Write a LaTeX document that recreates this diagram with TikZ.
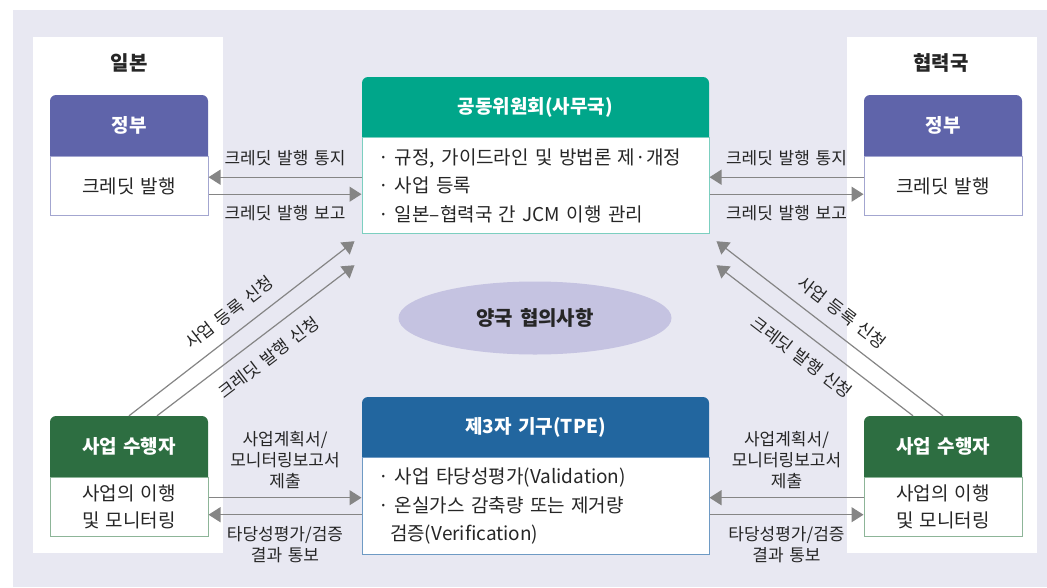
\documentclass[tikz,border=0pt]{standalone}
\usepackage{fontspec}
\setmainfont{Noto Sans CJK KR}[WordSpace=1.5]
\usetikzlibrary{arrows.meta,positioning,shapes.geometric}

\definecolor{lavbg}{HTML}{E8E8F2}
\definecolor{govhead}{HTML}{5F64AA}
\definecolor{govline}{HTML}{A3A6D0}
\definecolor{jcmhead}{HTML}{00A68A}
\definecolor{jcmline}{HTML}{7CCFC0}
\definecolor{tpehead}{HTML}{22669F}
\definecolor{tpeline}{HTML}{6E9AC4}
\definecolor{pphead}{HTML}{2D6E41}
\definecolor{ppline}{HTML}{8DB598}
\definecolor{agreefill}{HTML}{C5C3E1}
\definecolor{arrgray}{HTML}{858585}
\definecolor{ink}{HTML}{262626}

\begin{document}
\begin{tikzpicture}[x=1pt, y=-1pt, >={Triangle[length=12pt,width=15pt]},
  head/.style={minimum height=61pt, inner sep=0pt, text=white,
    font=\fontsize{19}{22}\selectfont\bfseries,
    path picture={\fill[#1] (path picture bounding box.south west) [rounded corners=6pt]
      -- (path picture bounding box.north west) -- (path picture bounding box.north east)
      [sharp corners] -- (path picture bounding box.south east) -- cycle;}},
  box/.style={draw=#1, line width=1pt, fill=white, inner sep=0pt, text=ink,
    font=\fontsize{19}{27}\selectfont, align=center},
  sidew/.style={minimum width=158pt},
  midw/.style={minimum width=347pt},
  itemlist/.style={text width=315pt, inner xsep=16pt, align=left,
    font=\fontsize{19}{28.5}\selectfont},
  country/.style={font=\fontsize{20}{24}\selectfont\bfseries, text=ink},
  flow/.style={->, draw=arrgray, line width=1.2pt},
  lbl/.style={inner sep=0pt, text=ink, font=\fontsize{17}{21}\selectfont, align=center}]
\useasboundingbox (0,0) rectangle (1047,587);
\fill[lavbg] (13,10) rectangle (1047,587);
\fill[white] (33,37) rectangle (223,553);
\fill[white] (847,37) rectangle (1037,553);

\node[country] (jp) at (129,63) {일본};
\node[country] (host) at (941,63) {협력국};

\node[head=govhead, sidew] (govL) at (129,125.5) {정부};
\node[box=govline, sidew, minimum height=59pt, below=0pt of govL] (govLb) {크레딧 발행};
\node[head=govhead, sidew] (govR) at (943,125.5) {정부};
\node[box=govline, sidew, minimum height=59pt, below=0pt of govR] (govRb) {크레딧 발행};

\node[head=jcmhead, midw, minimum height=60pt] (jcm) at (535.5,107) {공동위원회(사무국)};
\node[box=jcmline, itemlist, minimum height=96pt, below=0pt of jcm] (jcmb)
  {· 규정, 가이드라인 및 방법론 제·개정\\· 사업 등록\\· 일본–협력국 간 JCM 이행 관리};

\node[ellipse, fill=agreefill, minimum width=273pt, minimum height=73pt, text=ink,
  font=\fontsize{20}{24}\selectfont\bfseries] (agree) at (535,318) {양국 협의사항};

\node[head=tpehead, midw, minimum height=60pt] (tpe) at (535.5,427) {제3자 기구(TPE)};
\node[box=tpeline, itemlist, minimum height=97pt, below=0pt of tpe] (tpeb)
  {· 사업 타당성평가(Validation)\\· 온실가스 감축량 또는 제거량\\\hspace*{12pt}검증(Verification)};

\node[head=pphead, sidew] (ppL) at (129,446.5) {사업 수행자};
\node[box=ppline, sidew, minimum height=59pt, below=0pt of ppL] (ppLb) {사업의 이행\\및 모니터링};
\node[head=pphead, sidew] (ppR) at (943,446.5) {사업 수행자};
\node[box=ppline, sidew, minimum height=59pt, below=0pt of ppR] (ppRb) {사업의 이행\\및 모니터링};

\draw[flow] ([yshift=9pt]govLb.east -| jcmb.west) -- ([yshift=9pt]govLb.east)
  node[lbl, midway, above=11pt] {크레딧 발행 통지};
\draw[flow] ([yshift=-8pt]govLb.east) -- ([yshift=-8pt]govLb.east -| jcmb.west)
  node[lbl, midway, below=11pt] {크레딧 발행 보고};
\draw[flow] ([yshift=9pt]govRb.west) -- ([yshift=9pt]govRb.west -| jcmb.east)
  node[lbl, midway, above=11pt] {크레딧 발행 통지};
\draw[flow] ([yshift=-8pt]govRb.west -| jcmb.east) -- ([yshift=-8pt]govRb.west)
  node[lbl, midway, below=11pt] {크레딧 발행 보고};

\draw[flow] (ppL.north) -- ([xshift=-7pt,yshift=-7pt]jcmb.south west)
  node[lbl, sloped, midway, above=12pt] {사업 등록 신청};
\draw[flow] ([xshift=28pt]ppL.north) -- ([xshift=-7pt,yshift=-31pt]jcmb.south west)
  node[lbl, sloped, midway, below=13pt] {크레딧 발행 신청};
\draw[flow] (ppR.north) -- ([xshift=7pt,yshift=-7pt]jcmb.south east)
  node[lbl, sloped, midway, above=12pt] {사업 등록 신청};
\draw[flow] ([xshift=-30pt]ppR.north) -- ([xshift=7pt,yshift=-31pt]jcmb.south east)
  node[lbl, sloped, midway, below=13pt] {크레딧 발행 신청};

\draw[flow] ([yshift=9.5pt]ppLb.east) -- ([yshift=9.5pt]ppLb.east -| tpeb.west)
  node[lbl, midway, above=8pt] {사업계획서/\\모니터링보고서\\제출};
\draw[flow] ([yshift=-7.5pt]ppLb.east -| tpeb.west) -- ([yshift=-7.5pt]ppLb.east)
  node[lbl, midway, below=11pt] {타당성평가/검증\\결과 통보};
\draw[flow] ([yshift=9.5pt]ppRb.west) -- ([yshift=9.5pt]ppRb.west -| tpeb.east)
  node[lbl, midway, above=8pt] {사업계획서/\\모니터링보고서\\제출};
\draw[flow] ([yshift=-7.5pt]ppRb.west -| tpeb.east) -- ([yshift=-7.5pt]ppRb.west)
  node[lbl, midway, below=11pt] {타당성평가/검증\\결과 통보};
\end{tikzpicture}
\end{document}
